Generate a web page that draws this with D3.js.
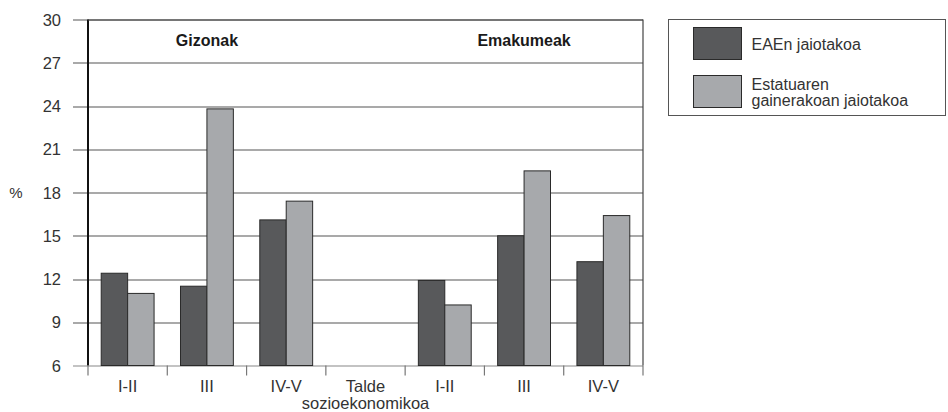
<!DOCTYPE html>
<html>
<head>
<meta charset="utf-8">
<script src="https://cdn.jsdelivr.net/npm/d3@7"></script>
<style>
  body { margin: 0; background: #fff; }
  svg text { font-family: "Liberation Sans", Arial, sans-serif; fill: #333; }
</style>
</head>
<body>
<div id="chart"></div>
<script>
// categories along the x axis (empty "Talde" slot separates the two groups)
var categories = ["m1", "m2", "m3", "gap", "w1", "w2", "w3"];
var catLabels = ["I-II", "III", "IV-V", "", "I-II", "III", "IV-V"];
var seriesNames = ["EAEn jaiotakoa", "Estatuaren gainerakoan jaiotakoa"];
var eaeValues = [12.4, 11.5, 16.1, null, 11.9, 15.0, 13.2];
var estValues = [11.0, 23.8, 17.4, null, 10.2, 19.5, 16.4];
var yTicks = [6, 9, 12, 15, 18, 21, 24, 27, 30];
var colors = ["#58595b", "#a7a9ac"];

var svgWidth = 948, svgHeight = 412;
var margin = {top: 19.5, left: 88, right: 305, bottom: 46.5};
var width = svgWidth - margin.left - margin.right;
var height = svgHeight - margin.top - margin.bottom;

var svg = d3.select("#chart").append("svg")
    .attr("width", svgWidth)
    .attr("height", svgHeight);
var g = svg.append("g")
    .attr("transform", `translate(${margin.left}, ${margin.top})`);

var x = d3.scaleBand().domain(categories).range([0, width]).paddingInner(0).paddingOuter(0);
var sub = d3.scaleBand().domain([0, 1]).range([0, x.bandwidth()]).paddingOuter(0.5).paddingInner(0);
var y = d3.scaleLinear().domain([6, 30]).range([height, 0]);

// gridlines with tick marks outward
g.append("g")
    .selectAll("line")
    .data(yTicks)
    .enter()
    .append("line")
    .attr("x1", -15)
    .attr("x2", width)
    .attr("y1", function(d) { return Math.round(y(d)) + 0.5; })
    .attr("y2", function(d) { return Math.round(y(d)) + 0.5; })
    .attr("stroke", function(d) { return d === 6 ? "#888" : "#555"; })
    .attr("stroke-width", 1.2);

g.append("g")
    .selectAll("text")
    .data(yTicks)
    .enter()
    .append("text")
    .attr("x", -27)
    .attr("y", function(d) { return y(d) + 6; })
    .attr("text-anchor", "end")
    .style("font-size", "16.5px")
    .text(function(d) { return d; });

// bars
var rows = categories.map(function(c, i) { return {cat: c, vals: [eaeValues[i], estValues[i]]}; });
g.append("g")
    .selectAll("g")
    .data(rows)
    .enter()
    .append("g")
    .attr("transform", function(d) { return `translate(${x(d.cat)},0)`; })
    .selectAll("rect")
    .data(function(d) { return d.vals.map(function(v, k) { return {k: k, v: v}; }).filter(function(e) { return e.v != null; }); })
    .enter()
    .append("rect")
    .attr("x", function(d) { return sub(d.k); })
    .attr("width", sub.bandwidth())
    .attr("y", function(d) { return y(d.v); })
    .attr("height", function(d) { return height - y(d.v); })
    .attr("fill", function(d) { return colors[d.k]; })
    .attr("stroke", "#2a2a2a")
    .attr("stroke-width", 1);

// frame: left axis, top, right
g.append("line").attr("x1", 0).attr("x2", 0).attr("y1", 0).attr("y2", height)
    .attr("stroke", "#111").attr("stroke-width", 2);
g.append("line").attr("x1", 0).attr("x2", width).attr("y1", 0.5).attr("y2", 0.5)
    .attr("stroke", "#444").attr("stroke-width", 1.2);
g.append("line").attr("x1", width).attr("x2", width).attr("y1", 0).attr("y2", height)
    .attr("stroke", "#444").attr("stroke-width", 1.2);

// x ticks
var xTickPos = categories.map(function(c) { return x(c); }).concat([width]);
g.append("g")
    .selectAll("line")
    .data(xTickPos)
    .enter()
    .append("line")
    .attr("x1", function(d) { return d; })
    .attr("x2", function(d) { return d; })
    .attr("y1", height)
    .attr("y2", height + 10)
    .attr("stroke", "#777")
    .attr("stroke-width", 1.2);

g.append("g")
    .selectAll("text")
    .data(categories)
    .enter()
    .append("text")
    .attr("x", function(d) { return x(d) + x.bandwidth() / 2; })
    .attr("y", height + 26)
    .attr("text-anchor", "middle")
    .style("font-size", "16.5px")
    .text(function(d, i) { return catLabels[i]; });

var talde = g.append("text")
    .attr("x", x("gap") + x.bandwidth() / 2)
    .attr("y", height + 26)
    .attr("text-anchor", "middle")
    .style("font-size", "16.5px");
talde.append("tspan").attr("x", x("gap") + x.bandwidth() / 2).text("Talde");
talde.append("tspan").attr("x", x("gap") + x.bandwidth() / 2).attr("dy", 17).text("sozioekonomikoa");

// group titles
g.append("text")
    .attr("x", (x("m1") + x("m3") + x.bandwidth()) / 2)
    .attr("y", 26.5)
    .attr("text-anchor", "middle")
    .style("font-size", "16px")
    .style("font-weight", "bold")
    .style("fill", "#1a1a1a")
    .text("Gizonak");
g.append("text")
    .attr("x", (x("w1") + x("w3") + x.bandwidth()) / 2)
    .attr("y", 26.5)
    .attr("text-anchor", "middle")
    .style("font-size", "16px")
    .style("font-weight", "bold")
    .style("fill", "#1a1a1a")
    .text("Emakumeak");

// y axis label
svg.append("text")
    .attr("x", 16)
    .attr("y", y(18) + margin.top + 5)
    .attr("text-anchor", "middle")
    .style("font-size", "15px")
    .text("%");

// legend
var legend = svg.append("g").attr("transform", "translate(668.5, 19.5)");
legend.append("rect")
    .attr("width", 277).attr("height", 96)
    .attr("fill", "#fff").attr("stroke", "#555").attr("stroke-width", 1);
var legRows = [
  {lines: [seriesNames[0]], y: 8},
  {lines: ["Estatuaren", "gainerakoan jaiotakoa"], y: 56}
];
legRows.forEach(function(r, i) {
  legend.append("rect")
      .attr("x", 25).attr("y", r.y)
      .attr("width", 48).attr("height", 32)
      .attr("fill", colors[i]).attr("stroke", "#2a2a2a").attr("stroke-width", 1);
  var t = legend.append("text")
      .attr("x", 83)
      .attr("y", i === 0 ? r.y + 22 : r.y + 14)
      .style("font-size", "16px");
  r.lines.forEach(function(l, j) {
    t.append("tspan").attr("x", 83).attr("dy", j === 0 ? 0 : 16).text(l);
  });
});
</script>
</body>
</html>
